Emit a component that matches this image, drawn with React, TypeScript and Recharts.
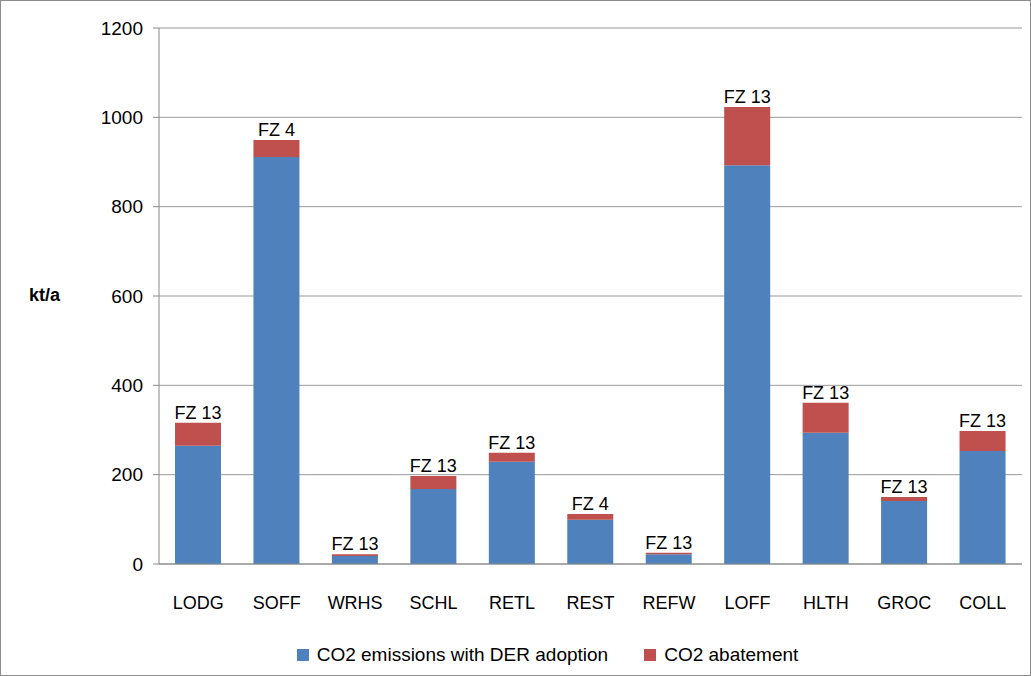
import { BarChart, Bar, XAxis, YAxis, CartesianGrid, Legend, LabelList } from "recharts";

const categories = ["LODG", "SOFF", "WRHS", "SCHL", "RETL", "REST", "REFW", "LOFF", "HLTH", "GROC", "COLL"];
const emissions = [265, 911, 18, 168, 229, 99, 22, 893, 294, 141, 253];
const abatement = [51, 38, 4, 29, 20, 13, 3, 130, 67, 9, 45];
const zones = ["FZ 13", "FZ 4", "FZ 13", "FZ 13", "FZ 13", "FZ 4", "FZ 13", "FZ 13", "FZ 13", "FZ 13", "FZ 13"];
const yTicks = [0, 200, 400, 600, 800, 1000, 1200];
const seriesNames = ["CO2 emissions with DER adoption", "CO2 abatement"];
const seriesColors = ["#4f81bd", "#c0504d"];

const data = categories.map((c, i) => ({
  category: c,
  emissions: emissions[i],
  abatement: abatement[i],
  zone: zones[i],
}));

const font = "'Liberation Sans', Arial, sans-serif";

const renderLegend = () => (
  <div style={{ display: "flex", justifyContent: "center", fontSize: 19, color: "#000", fontFamily: font, paddingTop: 12, paddingLeft: 30 }}>
    {seriesNames.map((n, i) => (
      <span key={n} style={{ display: "flex", alignItems: "center", marginRight: 36 }}>
        <span style={{ width: 12, height: 12, background: seriesColors[i], marginRight: 8, display: "inline-block" }} />
        {n}
      </span>
    ))}
  </div>
);

const renderZone = (p: any) => (
  <text x={p.x + p.width / 2} y={p.y - 4} textAnchor="middle" fill="#000" fontSize={18} fontFamily={font}>
    {p.value}
  </text>
);

export default function App() {
  return (
    <div style={{ position: "absolute", left: 0, top: 0, width: 1029, height: 674, border: "1px solid #8c8c8c", background: "#fff", fontFamily: font }}>
      <div style={{ position: "absolute", left: 28, top: 284, fontSize: 18, fontWeight: "bold" }}>kt/a</div>
      <BarChart width={1029} height={674} data={data} margin={{ top: 27, right: 8, bottom: 0, left: 78 }}>
        <CartesianGrid vertical={false} stroke="#9a9a9a" />
        <XAxis dataKey="category" height={68} tickLine={false} axisLine={{ stroke: "#888" }} tick={{ fill: "#000", fontSize: 18, fontFamily: font, dy: 24 }} interval={0} />
        <YAxis domain={[0, 1200]} ticks={yTicks} width={80} axisLine={{ stroke: "#888" }} tickLine={{ stroke: "#888" }} tickSize={6} tick={{ fill: "#000", fontSize: 19, fontFamily: font, dx: -8 }} />
        <Legend verticalAlign="bottom" height={43} content={renderLegend} />
        <Bar dataKey="emissions" name={seriesNames[0]} stackId="a" fill={seriesColors[0]} barSize={46} isAnimationActive={false} />
        <Bar dataKey="abatement" name={seriesNames[1]} stackId="a" fill={seriesColors[1]} barSize={46} isAnimationActive={false}>
          <LabelList dataKey="zone" content={renderZone} />
        </Bar>
      </BarChart>
    </div>
  );
}
